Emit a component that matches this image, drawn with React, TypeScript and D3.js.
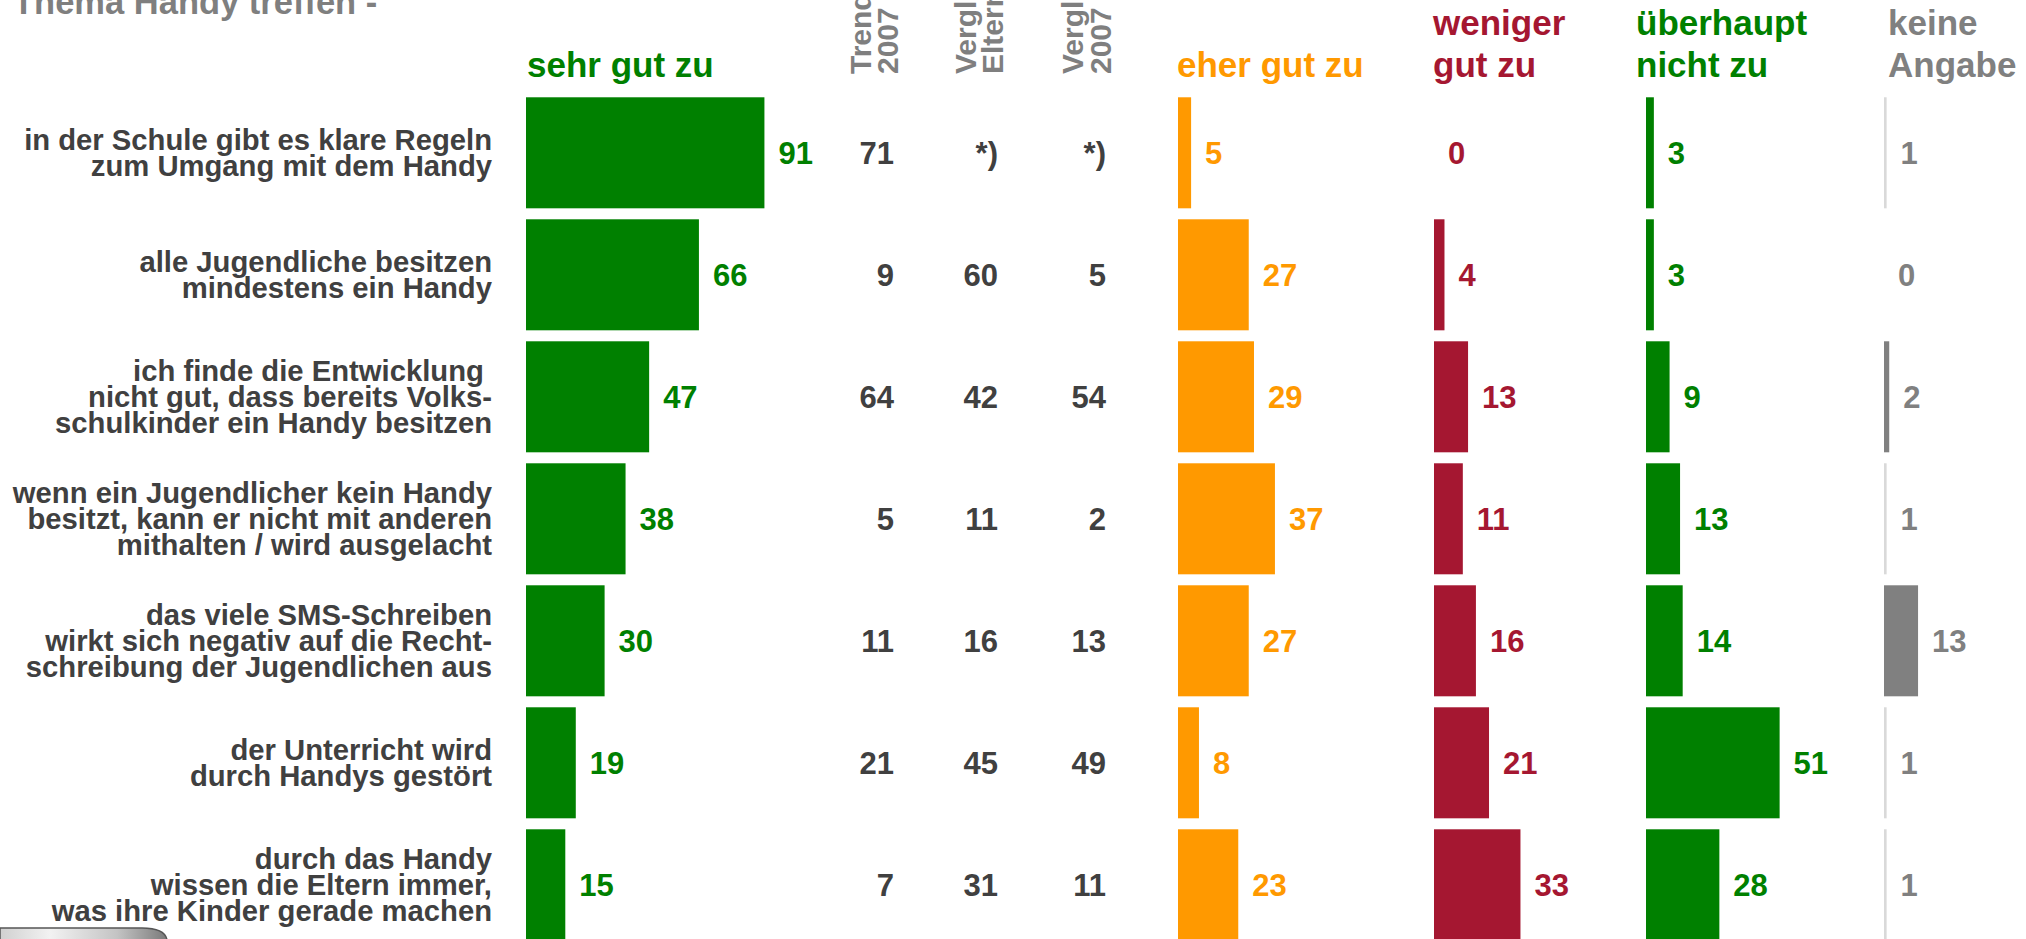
import React from "react";
import * as d3 from "d3";

// ---------- data ----------
const rowLabels: string[][] = [
  ["in der Schule gibt es klare Regeln", "zum Umgang mit dem Handy"],
  ["alle Jugendliche besitzen", "mindestens ein Handy"],
  ["ich finde die Entwicklung ", "nicht gut, dass bereits Volks-", "schulkinder ein Handy besitzen"],
  ["wenn ein Jugendlicher kein Handy", "besitzt, kann er nicht mit anderen", "mithalten / wird ausgelacht"],
  ["das viele SMS-Schreiben", "wirkt sich negativ auf die Recht-", "schreibung der Jugendlichen aus"],
  ["der Unterricht wird", "durch Handys gestört"],
  ["durch das Handy", "wissen die Eltern immer,", "was ihre Kinder gerade machen"],
];

const sehrGut = [91, 66, 47, 38, 30, 19, 15];
const eherGut = [5, 27, 29, 37, 27, 8, 23];
const wenigerGut = [0, 4, 13, 11, 16, 21, 33];
const ueberhauptNicht = [3, 3, 9, 13, 14, 51, 28];
const keineAngabe = [1, 0, 2, 1, 13, 1, 1];

const trend2007 = ["71", "9", "64", "5", "11", "21", "7"];
const vergleichEltern = ["*)", "60", "42", "11", "16", "45", "31"];
const vergleich2007 = ["*)", "5", "54", "2", "13", "49", "11"];

const titleText = "Thema Handy treffen -";
const seriesHeaders: string[][] = [
  ["sehr gut zu"],
  ["eher gut zu"],
  ["weniger", "gut zu"],
  ["überhaupt", "nicht zu"],
  ["keine", "Angabe"],
];
const columnHeaders: string[][] = [
  ["Trend", "2007"],
  ["Vergleich", "Eltern"],
  ["Vergleich", "2007"],
];

// ---------- layout ----------
const W = 2026;
const H = 939;
const FONT = "'Liberation Sans', Arial, Helvetica, sans-serif";
const GREEN = "#008000";
const ORANGE = "#ff9900";
const RED = "#a51731";
const GRAY = "#808080";
const DARK = "#404040";
const TITLE_GRAY = "#7f7f7f";

const series = [
  { values: sehrGut, color: GREEN, origin: 526, headerX: 527 },
  { values: eherGut, color: ORANGE, origin: 1178, headerX: 1177 },
  { values: wenigerGut, color: RED, origin: 1434, headerX: 1433 },
  { values: ueberhauptNicht, color: GREEN, origin: 1646, headerX: 1636 },
  { values: keineAngabe, color: GRAY, origin: 1884, headerX: 1888 },
];

const textColumns = [
  { values: trend2007, right: 894, headerBase: [871, 898] },
  { values: vergleichEltern, right: 998, headerBase: [976, 1003] },
  { values: vergleich2007, right: 1106, headerBase: [1083, 1111] },
];

export default function App() {
  const rows = d3.range(rowLabels.length);
  const y = d3
    .scaleBand<number>()
    .domain(rows)
    .range([91.8, 91.8 + 7 * 122])
    .paddingInner(0.09)
    .paddingOuter(0.045);
  const bw = y.bandwidth();
  const x = d3.scaleLinear().domain([0, 100]).range([0, 262]);

  const valFont = 31;
  const labelFont = 30;
  const labelScaleX = 0.975;
  const labelLine = 26;
  const headFont = 35;
  const rotFont = 30;

  const cy = (i: number) => (y(i) as number) + bw / 2;

  return (
    <svg
      width={W}
      height={H}
      viewBox={`0 0 ${W} ${H}`}
      style={{ position: "absolute", left: 0, top: 0, background: "#fff" }}
      fontFamily={FONT}
      fontWeight="bold"
    >
      <defs>
        <linearGradient id="tabGrad" x1="0" x2="1" y1="0" y2="0">
          <stop offset="0" stopColor="#d0d0d0" />
          <stop offset="0.3" stopColor="#f2f2f2" />
          <stop offset="0.7" stopColor="#c4c4c4" />
          <stop offset="1" stopColor="#7a7a7a" />
        </linearGradient>
      </defs>
      <rect x={0} y={0} width={W} height={H} fill="#fff" />

      {/* title (clipped at top) */}
      <text x={13} y={14} fontSize={34.5} fill={TITLE_GRAY}>
        {titleText}
      </text>

      {/* series headers */}
      {series.map((s, k) => {
        const lines = seriesHeaders[k];
        return lines.map((ln, j) => (
          <text
            key={`h${k}-${j}`}
            x={s.headerX}
            y={77 - (lines.length - 1 - j) * 42}
            fontSize={headFont}
            fill={s.color}
          >
            {ln}
          </text>
        ));
      })}

      {/* rotated column headers */}
      {textColumns.map((c, k) =>
        columnHeaders[k].map((ln, j) => (
          <text
            key={`r${k}-${j}`}
            transform={`translate(${c.headerBase[j]},74) rotate(-90)`}
            fontSize={rotFont}
            fill={TITLE_GRAY}
          >
            {ln}
          </text>
        ))
      )}

      {/* row labels */}
      {rows.map((i) => {
        const lines = rowLabels[i];
        const n = lines.length;
        return lines.map((ln, j) => {
          const ty = cy(i) + (j - (n - 1) / 2) * labelLine + 0.33 * labelFont;
          return (
            <text
              key={`l${i}-${j}`}
              transform={`translate(492,${ty}) scale(${labelScaleX},1)`}
              textAnchor="end"
              fontSize={labelFont}
              fill={DARK}
              style={{ whiteSpace: "pre" }}
            >
              {ln}
            </text>
          );
        });
      })}

      {/* bars + values */}
      {series.map((s, k) =>
        s.values.map((v, i) => (
          <g key={`b${k}-${i}`}>
            {v > 0 && (
              <rect
                x={s.origin}
                y={y(i) as number}
                width={x(v)}
                height={bw}
                fill={s.color}
                opacity={k === 4 && v === 1 ? 0.3 : 1}
              />
            )}
            <text
              x={s.origin + x(v) + 14}
              y={cy(i) + 0.36 * valFont}
              fontSize={valFont}
              fill={s.color}
            >
              {v}
            </text>
          </g>
        ))
      )}

      {/* comparison columns */}
      {textColumns.map((c, k) =>
        c.values.map((v, i) => (
          <text
            key={`c${k}-${i}`}
            x={c.right}
            y={cy(i) + 0.36 * valFont}
            textAnchor="end"
            fontSize={valFont}
            fill={DARK}
          >
            {v}
          </text>
        ))
      )}

      {/* bottom-left tab */}
      <path
        d="M0,940 L0,928 L142,928 Q165,928 167,940 Z"
        fill="url(#tabGrad)"
        stroke="#555"
        strokeWidth={1.5}
      />
    </svg>
  );
}
